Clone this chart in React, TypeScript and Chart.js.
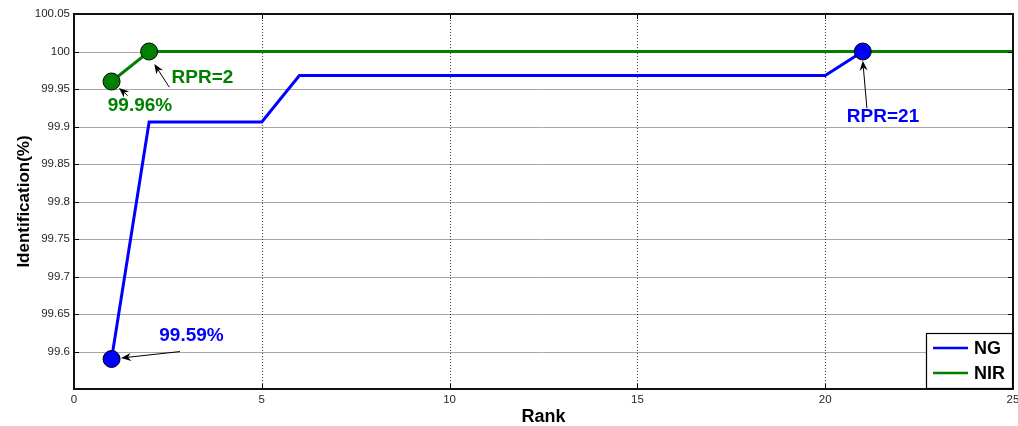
import { useEffect, useRef } from "react";
import { Chart, registerables } from "chart.js";

Chart.register(...registerables);

// Rank axis (1..25)
const ranks = [1, 2, 3, 4, 5, 6, 7, 8, 9, 10, 11, 12, 13, 14, 15, 16, 17, 18, 19, 20, 21, 22, 23, 24, 25];

// Identification rate (%) per rank
const ngValues = [
  99.59, 99.906, 99.906, 99.906, 99.906,
  99.968, 99.968, 99.968, 99.968, 99.968, 99.968, 99.968, 99.968, 99.968, 99.968,
  99.968, 99.968, 99.968, 99.968, 99.968,
  100, 100, 100, 100, 100,
];
const nirValues = [
  99.96, 100, 100, 100, 100, 100, 100, 100, 100, 100, 100, 100, 100,
  100, 100, 100, 100, 100, 100, 100, 100, 100, 100, 100, 100,
];

// Ranks that carry a circle marker
const ngMarkedRanks = [1, 21];
const nirMarkedRanks = [1, 2];

const seriesNames = ["NG", "NIR"];
const xTickStep = 5;
const yTickStep = 0.05;
const yMin = 99.55;
const yMax = 100.05;

const BLUE = "#0000ff";
const GREEN = "#008000";
const FONT = "'Liberation Sans', Arial, Helvetica, sans-serif";

// Callout texts (data coordinates: centre x, baseline y)
const callouts = [
  { text: "99.96%", x: 1.757, y: 99.9208, color: GREEN },
  { text: "RPR=2", x: 3.421, y: 99.9577, color: GREEN },
  { text: "99.59%", x: 3.128, y: 99.6136, color: BLUE },
  { text: "RPR=21", x: 21.54, y: 99.9062, color: BLUE },
];

// Callout arrows (data coordinates: tail -> head)
const arrows = [
  { from: [1.43, 99.9412], to: [1.198, 99.9515] },
  { from: [2.537, 99.9524], to: [2.138, 99.9834] },
  { from: [2.822, 99.5999], to: [1.251, 99.5913] },
  { from: [21.11, 99.9244], to: [21.0, 99.9878] },
];

function drawArrow(ctx: CanvasRenderingContext2D, x1: number, y1: number, x2: number, y2: number) {
  const ang = Math.atan2(y2 - y1, x2 - x1);
  const c = Math.cos(ang);
  const s = Math.sin(ang);
  const L = 10;
  const W = 4;
  const N = 3;
  ctx.save();
  ctx.strokeStyle = "#000";
  ctx.fillStyle = "#000";
  ctx.lineWidth = 1;
  ctx.beginPath();
  ctx.moveTo(x1, y1);
  ctx.lineTo(x2 - (L - N) * c, y2 - (L - N) * s);
  ctx.stroke();
  const bx = x2 - L * c;
  const by = y2 - L * s;
  ctx.beginPath();
  ctx.moveTo(x2, y2);
  ctx.lineTo(bx - W * s, by + W * c);
  ctx.lineTo(x2 - (L - N) * c, y2 - (L - N) * s);
  ctx.lineTo(bx + W * s, by - W * c);
  ctx.closePath();
  ctx.fill();
  ctx.restore();
}

const decorPlugin = {
  id: "decor",
  beforeDatasetsDraw(chart: any) {
    const { ctx, chartArea: a, scales } = chart;
    const xs = scales.x;
    const ys = scales.y;
    ctx.save();
    // horizontal grid
    ctx.strokeStyle = "#a6a6a6";
    ctx.lineWidth = 1;
    for (let v = yMin + yTickStep; v < yMax - 1e-9; v += yTickStep) {
      const py = Math.round(ys.getPixelForValue(v)) + 0.5;
      ctx.beginPath();
      ctx.moveTo(a.left, py);
      ctx.lineTo(a.right, py);
      ctx.stroke();
    }
    // vertical dotted grid
    ctx.strokeStyle = "#3c3c3c";
    ctx.setLineDash([1, 2]);
    for (let v = xs.min + xTickStep; v < xs.max; v += xTickStep) {
      const px = Math.round(xs.getPixelForValue(v)) + 0.5;
      ctx.beginPath();
      ctx.moveTo(px, a.top);
      ctx.lineTo(px, a.bottom);
      ctx.stroke();
    }
    ctx.restore();
  },
  afterDatasetsDraw(chart: any) {
    const { ctx, chartArea: a, scales } = chart;
    const xs = scales.x;
    const ys = scales.y;
    ctx.save();

    // inward tick marks on all four sides
    ctx.strokeStyle = "#000";
    ctx.lineWidth = 1;
    const tl = 5;
    for (let v = yMin; v <= yMax + 1e-9; v += yTickStep) {
      const py = Math.round(ys.getPixelForValue(v)) + 0.5;
      ctx.beginPath();
      ctx.moveTo(a.left, py);
      ctx.lineTo(a.left + tl, py);
      ctx.moveTo(a.right, py);
      ctx.lineTo(a.right - tl, py);
      ctx.stroke();
    }
    for (let v = xs.min; v <= xs.max; v += xTickStep) {
      const px = Math.round(xs.getPixelForValue(v)) + 0.5;
      ctx.beginPath();
      ctx.moveTo(px, a.top);
      ctx.lineTo(px, a.top + tl);
      ctx.moveTo(px, a.bottom);
      ctx.lineTo(px, a.bottom - tl);
      ctx.stroke();
    }

    // axes box
    ctx.lineWidth = 2;
    ctx.strokeStyle = "#111";
    ctx.strokeRect(a.left, a.top, a.right - a.left, a.bottom - a.top);

    // callout arrows and texts
    for (const ar of arrows) {
      drawArrow(
        ctx,
        xs.getPixelForValue(ar.from[0]),
        ys.getPixelForValue(ar.from[1]),
        xs.getPixelForValue(ar.to[0]),
        ys.getPixelForValue(ar.to[1])
      );
    }
    ctx.font = `bold 19px ${FONT}`;
    ctx.textAlign = "center";
    ctx.textBaseline = "alphabetic";
    for (const c of callouts) {
      ctx.fillStyle = c.color;
      ctx.fillText(c.text, xs.getPixelForValue(c.x), ys.getPixelForValue(c.y));
    }

    // legend box in the lower-right corner
    const lw = 87;
    const lh = 56;
    const lx = a.right - lw;
    const ly = a.bottom - lh;
    ctx.fillStyle = "#fff";
    ctx.fillRect(lx, ly, lw, lh);
    ctx.lineWidth = 1.2;
    ctx.strokeStyle = "#000";
    ctx.strokeRect(lx + 0.5, ly + 0.5, lw - 1, lh - 1);
    const colors = [BLUE, GREEN];
    ctx.font = `bold 18px ${FONT}`;
    ctx.textAlign = "left";
    ctx.textBaseline = "middle";
    seriesNames.forEach((name, i) => {
      const yy = ly + 15 + i * 25;
      ctx.strokeStyle = colors[i];
      ctx.lineWidth = 2.5;
      ctx.beginPath();
      ctx.moveTo(lx + 7, yy);
      ctx.lineTo(lx + 42, yy);
      ctx.stroke();
      ctx.fillStyle = "#000";
      ctx.fillText(name, lx + 48, yy + 1);
    });

    // axis titles
    ctx.fillStyle = "#000";
    ctx.font = `bold 18px ${FONT}`;
    ctx.textAlign = "center";
    ctx.textBaseline = "alphabetic";
    ctx.fillText("Rank", (a.left + a.right) / 2, 422);
    ctx.font = `bold 17px ${FONT}`;
    ctx.save();
    ctx.translate(29, (a.top + a.bottom) / 2);
    ctx.rotate(-Math.PI / 2);
    ctx.fillText("Identification(%)", 0, 0);
    ctx.restore();

    ctx.restore();
  },
};

export default function App() {
  const canvasRef = useRef<HTMLCanvasElement | null>(null);

  useEffect(() => {
    document.body.style.margin = "0";
    const canvas = canvasRef.current;
    if (!canvas) return;

    const toPoints = (vals: number[]) => ranks.map((r, i) => ({ x: r, y: vals[i] }));
    const ngMarkers = ranks
      .map((r, i) => ({ x: r, y: ngValues[i] }))
      .filter((p) => ngMarkedRanks.includes(p.x));

    const chart = new Chart(canvas, {
      type: "line",
      data: {
        datasets: [
          {
            label: seriesNames[0] + " markers",
            data: ngMarkers,
            showLine: false,
            pointRadius: 8.5,
            pointBackgroundColor: BLUE,
            pointBorderColor: "#000",
            pointBorderWidth: 1,
            order: 0,
          },
          {
            label: seriesNames[1],
            data: toPoints(nirValues),
            borderColor: GREEN,
            borderWidth: 3,
            pointRadius: ranks.map((r) => (nirMarkedRanks.includes(r) ? 8.5 : 0)),
            pointBackgroundColor: GREEN,
            pointBorderColor: "#000",
            pointBorderWidth: 1,
            tension: 0,
            order: 1,
          },
          {
            label: seriesNames[0],
            data: toPoints(ngValues),
            borderColor: BLUE,
            borderWidth: 3,
            pointRadius: 0,
            tension: 0,
            order: 2,
          },
        ],
      },
      options: {
        responsive: false,
        animation: false,
        devicePixelRatio: 1,
        layout: { autoPadding: false, padding: { left: 0, right: 5, top: 14, bottom: 0 } },
        plugins: {
          legend: { display: false },
          tooltip: { enabled: false },
          title: { display: false },
        },
        scales: {
          x: {
            type: "linear",
            min: 0,
            max: 25,
            grid: { display: false, drawTicks: false },
            border: { display: false },
            ticks: {
              stepSize: xTickStep,
              padding: 4,
              color: "#262626",
              font: { family: FONT, size: 11.5 },
              maxRotation: 0,
            },
            afterFit: (scale: any) => {
              scale.height = 37;
              scale.paddingLeft = 0;
              scale.paddingRight = 0;
            },
          },
          y: {
            type: "linear",
            min: yMin,
            max: yMax,
            grid: { display: false, drawTicks: false },
            border: { display: false },
            ticks: {
              stepSize: yTickStep,
              padding: 4,
              color: "#262626",
              font: { family: FONT, size: 11.5 },
              callback: (v: any) => {
                const n = Number(v);
                if (Math.abs(n - yMin) < 1e-6) return "";
                return String(Number(n.toFixed(2)));
              },
            },
            afterFit: (scale: any) => {
              scale.width = 74;
              scale.paddingTop = 0;
              scale.paddingBottom = 0;
            },
          },
        },
      },
      plugins: [decorPlugin],
    });

    return () => chart.destroy();
  }, []);

  return (
    <div style={{ width: 1018, height: 426 }}>
      <canvas ref={canvasRef} width={1018} height={426} />
    </div>
  );
}
